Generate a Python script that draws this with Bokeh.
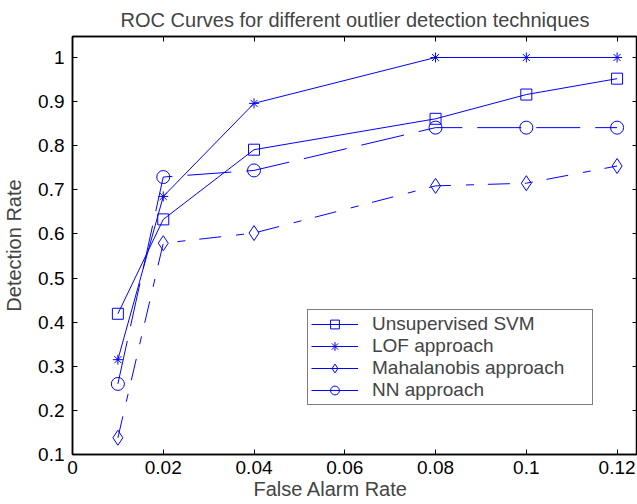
from bokeh.plotting import figure
from bokeh.models import (Range1d, LinearAxis, FixedTicker, Legend, LegendItem, Title)
from bokeh.embed import file_html
from bokeh.resources import INLINE

false_alarm = [0.01, 0.02, 0.04, 0.08, 0.10, 0.12]
svm = [0.419, 0.633, 0.791, 0.861, 0.916, 0.952]
lof = [0.315, 0.685, 0.896, 1.0, 1.0, 1.0]
mahalanobis = [0.138, 0.579, 0.602, 0.709, 0.715, 0.754]
nn = [0.260, 0.729, 0.744, 0.841, 0.841, 0.841]
series_names = ["Unsupervised SVM", "LOF approach", "Mahalanobis approach", "NN approach"]
x_ticks = [0, 0.02, 0.04, 0.06, 0.08, 0.10, 0.12]
x_tick_labels = ["0", "0.02", "0.04", "0.06", "0.08", "0.1", "0.12"]
y_ticks = [0.1, 0.2, 0.3, 0.4, 0.5, 0.6, 0.7, 0.8, 0.9, 1.0]
y_tick_labels = ["0.1", "0.2", "0.3", "0.4", "0.5", "0.6", "0.7", "0.8", "0.9", "1"]

FONT = "Liberation Sans"

p = figure(width=637, height=504, output_backend="svg", toolbar_location=None,
           x_range=Range1d(0, 0.1245), y_range=Range1d(0.1, 1.0476),
           min_border_left=72, min_border_right=0, min_border_top=36, min_border_bottom=50,
           x_axis_type=None, y_axis_type=None)
p.grid.visible = False
p.outline_line_color = "black"
p.outline_line_width = 1.5
p.background_fill_color = "white"
p.border_fill_color = "white"

p.title.text = "ROC Curves for different outlier detection techniques"
p.title.text_font = FONT
p.title.text_font_size = "20px"
p.title.text_font_style = "normal"
p.title.align = "center"
p.title.standoff = 12

def make_axis(ticks, labels, show_labels):
    ax = LinearAxis(ticker=FixedTicker(ticks=ticks))
    ax.major_tick_in = 5
    ax.major_tick_out = 0
    ax.minor_tick_in = 0
    ax.minor_tick_out = 0
    ax.axis_line_color = "black"
    ax.axis_line_width = 1.5
    ax.major_tick_line_color = "black"
    ax.major_label_text_font = FONT
    ax.major_label_text_font_size = "19px"
    ax.major_label_text_color = "black"
    if show_labels:
        ax.major_label_overrides = {t: l for t, l in zip(ticks, labels)}
    else:
        ax.major_label_text_font_size = "0px"
        ax.major_label_text_color = None
        ax.major_label_standoff = 0
    return ax

bottom = make_axis(x_ticks, x_tick_labels, True)
bottom.major_label_standoff = 6
left = make_axis(y_ticks, y_tick_labels, True)
left.major_label_standoff = 8
left.axis_label = "Detection Rate"
left.axis_label_text_font = FONT
left.axis_label_text_font_size = "20px"
left.axis_label_text_font_style = "normal"
left.axis_label_standoff = 10
top = make_axis(x_ticks, x_tick_labels, False)
right = make_axis(y_ticks, y_tick_labels, False)
p.add_layout(bottom, "below")
p.add_layout(left, "left")
p.add_layout(top, "above")
p.add_layout(right, "right")

xlabel = Title(text="False Alarm Rate", text_font=FONT, text_font_size="20px",
               text_font_style="normal", align="left", offset=181, standoff=-2)
p.add_layout(xlabel, "below")

blue = "#0000ff"
r1 = p.line(false_alarm, svm, line_color=blue, line_width=1)
m1 = p.scatter(false_alarm, svm, marker="square", size=11, fill_color=None, line_color=blue, line_width=1)
r2 = p.line(false_alarm, lof, line_color=blue, line_width=1)
m2 = p.scatter(false_alarm, lof, marker="asterisk", size=10, fill_color=None, line_color=blue, line_width=1)
r3 = p.line(false_alarm, mahalanobis, line_color=blue, line_width=1, line_dash="22 15 8 14")
m3 = p.scatter(false_alarm, mahalanobis, marker="diamond", size=15, fill_color=None, line_color=blue, line_width=1)
r4 = p.line(false_alarm, nn, line_color=blue, line_width=1, line_dash="44 15")
m4 = p.scatter(false_alarm, nn, marker="circle", size=13, fill_color=None, line_color=blue, line_width=1)

# legend swatches show solid lines, as in the reference (single-point lines draw nothing on the plot)
all_series = [svm, lof, mahalanobis, nn]
legend_lines = [p.line(false_alarm[:1], s[:1], line_color=blue, line_width=1) for s in all_series]
items = []
for name, ln, mk in zip(series_names, legend_lines, [m1, m2, m3, m4]):
    items.append(LegendItem(label=name, renderers=[ln, mk]))

legend = Legend(items=items, location=(235, 49))
legend.border_line_color = "black"
legend.border_line_width = 1
legend.background_fill_color = "white"
legend.background_fill_alpha = 1
legend.label_text_font = FONT
legend.label_text_font_size = "19px"
legend.label_height = 22
legend.label_width = 217
legend.glyph_height = 22
legend.glyph_width = 47
legend.label_standoff = 14
legend.spacing = 0
legend.padding = 3
legend.margin = 0
p.add_layout(legend, "center")

open("out.html", "w").write(file_html(p, INLINE))
